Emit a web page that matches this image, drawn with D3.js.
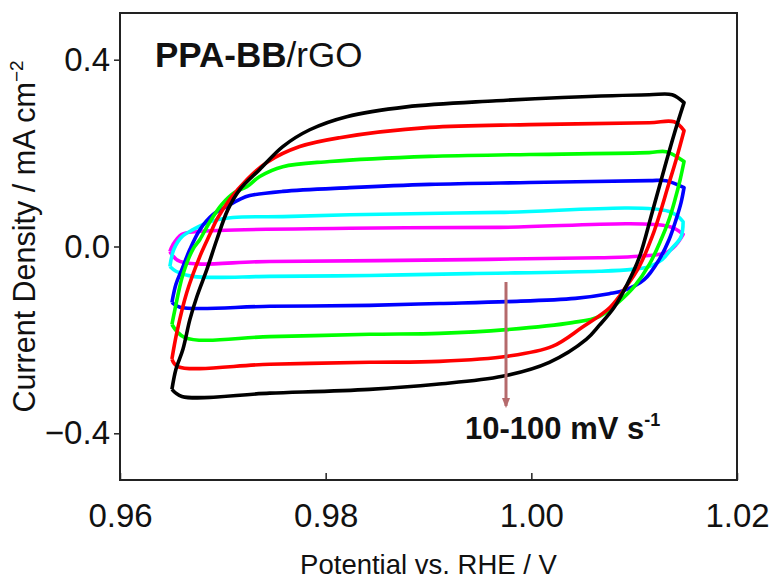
<!DOCTYPE html>
<html>
<head>
<meta charset="utf-8">
<script src="https://cdn.jsdelivr.net/npm/d3@7"></script>
<style>
	body { margin: 0; background: #fff; }
	svg text { font-family: "Liberation Sans", Arial, sans-serif; fill: #111; }
</style>
</head>
<body>
<div id="chart"></div>
<script>
// scan rates 10-100 mV/s, each loop as [potential V, current mA cm-2]
var scan10 = [[0.96485,-0.011],[0.96515,0.004],[0.96602,0.026],[0.96748,0.032],[0.98233,0.039],[0.99689,0.041],[1.01340,0.043],[1.01476,0.026],
	[1.01408,0.004],[1.01311,-0.013],[1.01049,-0.021],[1.00660,-0.024],[0.99398,-0.028],[0.97456,-0.032],[0.96583,-0.032]]
var scan20 = [[0.96485,-0.043],[0.96524,-0.006],[0.96602,0.021],[0.96709,0.036],[0.96874,0.053],[0.97097,0.062],[0.97583,0.064],[0.98233,0.068],[0.99689,0.073],[1.01340,0.075],[1.01476,0.053],
	[1.01456,0.021],[1.01359,-0.006],[1.01272,-0.028],[1.01146,-0.043],[1.00981,-0.049],[1.00660,-0.053],[0.99398,-0.058],[0.98427,-0.062],[0.97456,-0.064],[0.96709,-0.064],[0.96544,-0.053]]
var scan40 = [[0.96505,-0.120],[0.96544,-0.081],[0.96602,-0.049],[0.96680,-0.006],[0.96777,0.036],[0.96903,0.068],[0.97039,0.086],[0.97165,0.101],[0.97262,0.109],[0.97583,0.118],[0.98233,0.126],[0.99010,0.133],[0.99981,0.137],[1.01146,0.141],[1.01311,0.141],[1.01485,0.126],
	[1.01456,0.094],[1.01408,0.058],[1.01340,0.015],[1.01243,-0.028],[1.01097,-0.071],[1.00903,-0.094],[1.00757,-0.101],[1.00427,-0.111],[0.99767,-0.118],[0.99107,-0.122],[0.98427,-0.126],[0.97456,-0.128],[0.96583,-0.130]]
var scan60 = [[0.96505,-0.167],[0.96534,-0.135],[0.96612,-0.060],[0.96709,-0.006],[0.96777,0.015],[0.96874,0.053],[0.96990,0.090],[0.97117,0.116],[0.97233,0.128],[0.97359,0.150],[0.97583,0.171],[0.98039,0.182],[0.99010,0.193],[0.99981,0.197],[1.01146,0.201],[1.01311,0.203],[1.01485,0.182],
	[1.01447,0.143],[1.01398,0.101],[1.01340,0.058],[1.01262,0.015],[1.01146,-0.039],[1.01000,-0.086],[1.00854,-0.118],[1.00660,-0.150],[1.00398,-0.163],[0.99757,-0.178],[0.99107,-0.186],[0.98427,-0.188],[0.97456,-0.193],[0.96631,-0.195]]
var scan80 = [[0.96505,-0.241],[0.96553,-0.184],[0.96650,-0.098],[0.96777,-0.021],[0.96874,0.026],[0.96942,0.058],[0.97068,0.101],[0.97233,0.143],[0.97427,0.180],[0.97748,0.214],[0.98136,0.233],[0.99010,0.255],[0.99981,0.261],[1.01146,0.265],[1.01388,0.267],[1.01485,0.248],
	[1.01408,0.186],[1.01320,0.122],[1.01272,0.086],[1.01175,0.021],[1.01049,-0.043],[1.00922,-0.086],[1.00767,-0.130],[1.00495,-0.173],[1.00204,-0.214],[0.99767,-0.235],[0.99107,-0.246],[0.98427,-0.248],[0.97456,-0.252],[0.96563,-0.257]]
var scan100 = [[0.96505,-0.306],[0.96544,-0.263],[0.96612,-0.220],[0.96680,-0.156],[0.96748,-0.107],[0.96845,-0.049],[0.96942,0.015],[0.97049,0.079],[0.97165,0.122],[0.97359,0.165],[0.97583,0.214],[0.97845,0.250],[0.98204,0.278],[0.98786,0.299],[0.99660,0.312],[1.00301,0.319],[1.01146,0.325],[1.01369,0.325],[1.01485,0.308],
	[1.01388,0.240],[1.01291,0.165],[1.01175,0.073],[1.01049,-0.024],[1.00932,-0.081],[1.00806,-0.130],[1.00660,-0.169],[1.00534,-0.199],[1.00175,-0.248],[0.99718,-0.278],[0.99078,-0.295],[0.98427,-0.306],[0.97456,-0.314],[0.96602,-0.321]]

var curves = [scan10, scan20, scan40, scan60, scan80, scan100]
var colours = ["#ff00ff", "#00ffff", "#0000ff", "#00ff00", "#ff0000", "#000000"]

var xTicks = [0.96, 0.98, 1.00, 1.02]
var yTicks = [-0.4, 0.0, 0.4]

var fullWidth = 780, fullHeight = 582
var margin = {top: 13, right: 43, bottom: 102, left: 120}
var width = fullWidth - margin.left - margin.right
var height = fullHeight - margin.top - margin.bottom

var svg = d3.select("#chart")
	.append("svg")
	.attr("width", fullWidth)
	.attr("height", fullHeight)

var g = svg.append("g")
	.attr("transform", `translate(${margin.left},${margin.top})`)

var xScale = d3.scaleLinear().domain([0.96, 1.02]).range([0, width])
var yScale = d3.scaleLinear().domain([-0.5, 0.5]).range([height, 0])

// smooth each sweep branch, keep the corners at the switching potentials sharp
var lineGenerator = d3.line()
	.x(d => xScale(d[0]))
	.y(d => yScale(d[1]))
	.curve(d3.curveCatmullRom.alpha(0.5))

curves.forEach((curve, i) => {
	let turn = d3.maxIndex(curve, d => d[0])
	let anodic = curve.slice(0, turn + 1)
	let cathodic = curve.slice(turn).concat([curve[0]])
	g.append("path")
		.attr("d", lineGenerator(anodic) + lineGenerator(cathodic).replace(/^M[^A-Za-z]*/, ""))
		.attr("fill", "none")
		.attr("stroke", colours[i])
		.attr("stroke-width", 3.6)
		.attr("stroke-linejoin", "round")
})

// axes
var xAxis = d3.axisBottom(xScale)
	.tickValues(xTicks)
	.tickFormat(d3.format(".2f"))
	.tickSizeInner(-7)
	.tickSizeOuter(0)
	.tickPadding(24)

var yAxis = d3.axisLeft(yScale)
	.tickValues(yTicks)
	.tickFormat(d => d3.format(".1f")(d).replace("-", "\u2212"))
	.tickSizeInner(6)
	.tickSizeOuter(0)
	.tickPadding(4)

var gx = g.append("g")
	.attr("transform", `translate(0,${height})`)
	.call(xAxis)
var gy = g.append("g").call(yAxis)

;[gx, gy].forEach(a => {
	a.select(".domain").remove()
	a.selectAll("line").attr("stroke", "#222").attr("stroke-width", 1.5)
	a.selectAll("text")
		.attr("font-size", 33)
		.attr("fill", "#111")
		.style("font-family", '"Liberation Sans", Arial, sans-serif')
})

g.append("rect")
	.attr("width", width)
	.attr("height", height)
	.attr("fill", "none")
	.attr("stroke", "#222")
	.attr("stroke-width", 2)

// labels
svg.append("text")
	.attr("x", margin.left + width / 2)
	.attr("y", 574)
	.attr("text-anchor", "middle")
	.attr("font-size", 27.5)
	.text("Potential vs. RHE / V")

var yTitle = svg.append("text")
	.attr("transform", `translate(35,${margin.top + yScale(0) - 10}) rotate(-90)`)
	.attr("text-anchor", "middle")
	.attr("font-size", 30.5)
yTitle.append("tspan").text("Current Density / mA cm")
yTitle.append("tspan").attr("font-size", 19).attr("dy", -12).text("\u22122")

var tag = svg.append("text")
	.attr("x", 155)
	.attr("y", 67)
	.attr("font-size", 35)
tag.append("tspan").attr("font-weight", "bold").text("PPA-BB")
tag.append("tspan").text("/rGO")

// scan-rate arrow
svg.append("defs").append("marker")
	.attr("id", "head")
	.attr("viewBox", "0 0 10 10")
	.attr("refX", 8).attr("refY", 5)
	.attr("markerWidth", 3.5).attr("markerHeight", 3.5)
	.attr("orient", "auto")
	.append("path")
	.attr("d", "M0,1L10,5L0,9Z")
	.attr("fill", "#b56a6c")

svg.append("line")
	.attr("x1", 506).attr("x2", 506)
	.attr("y1", 282).attr("y2", 406)
	.attr("stroke", "#b56a6c")
	.attr("stroke-width", 3)
	.attr("marker-end", "url(#head)")

var rate = svg.append("text")
	.attr("x", 465)
	.attr("y", 439)
	.attr("font-size", 31)
	.attr("font-weight", "bold")
rate.append("tspan").text("10-100 mV s")
rate.append("tspan").attr("font-size", 18).attr("dy", -13).text("-1")
</script>
</body>
</html>
